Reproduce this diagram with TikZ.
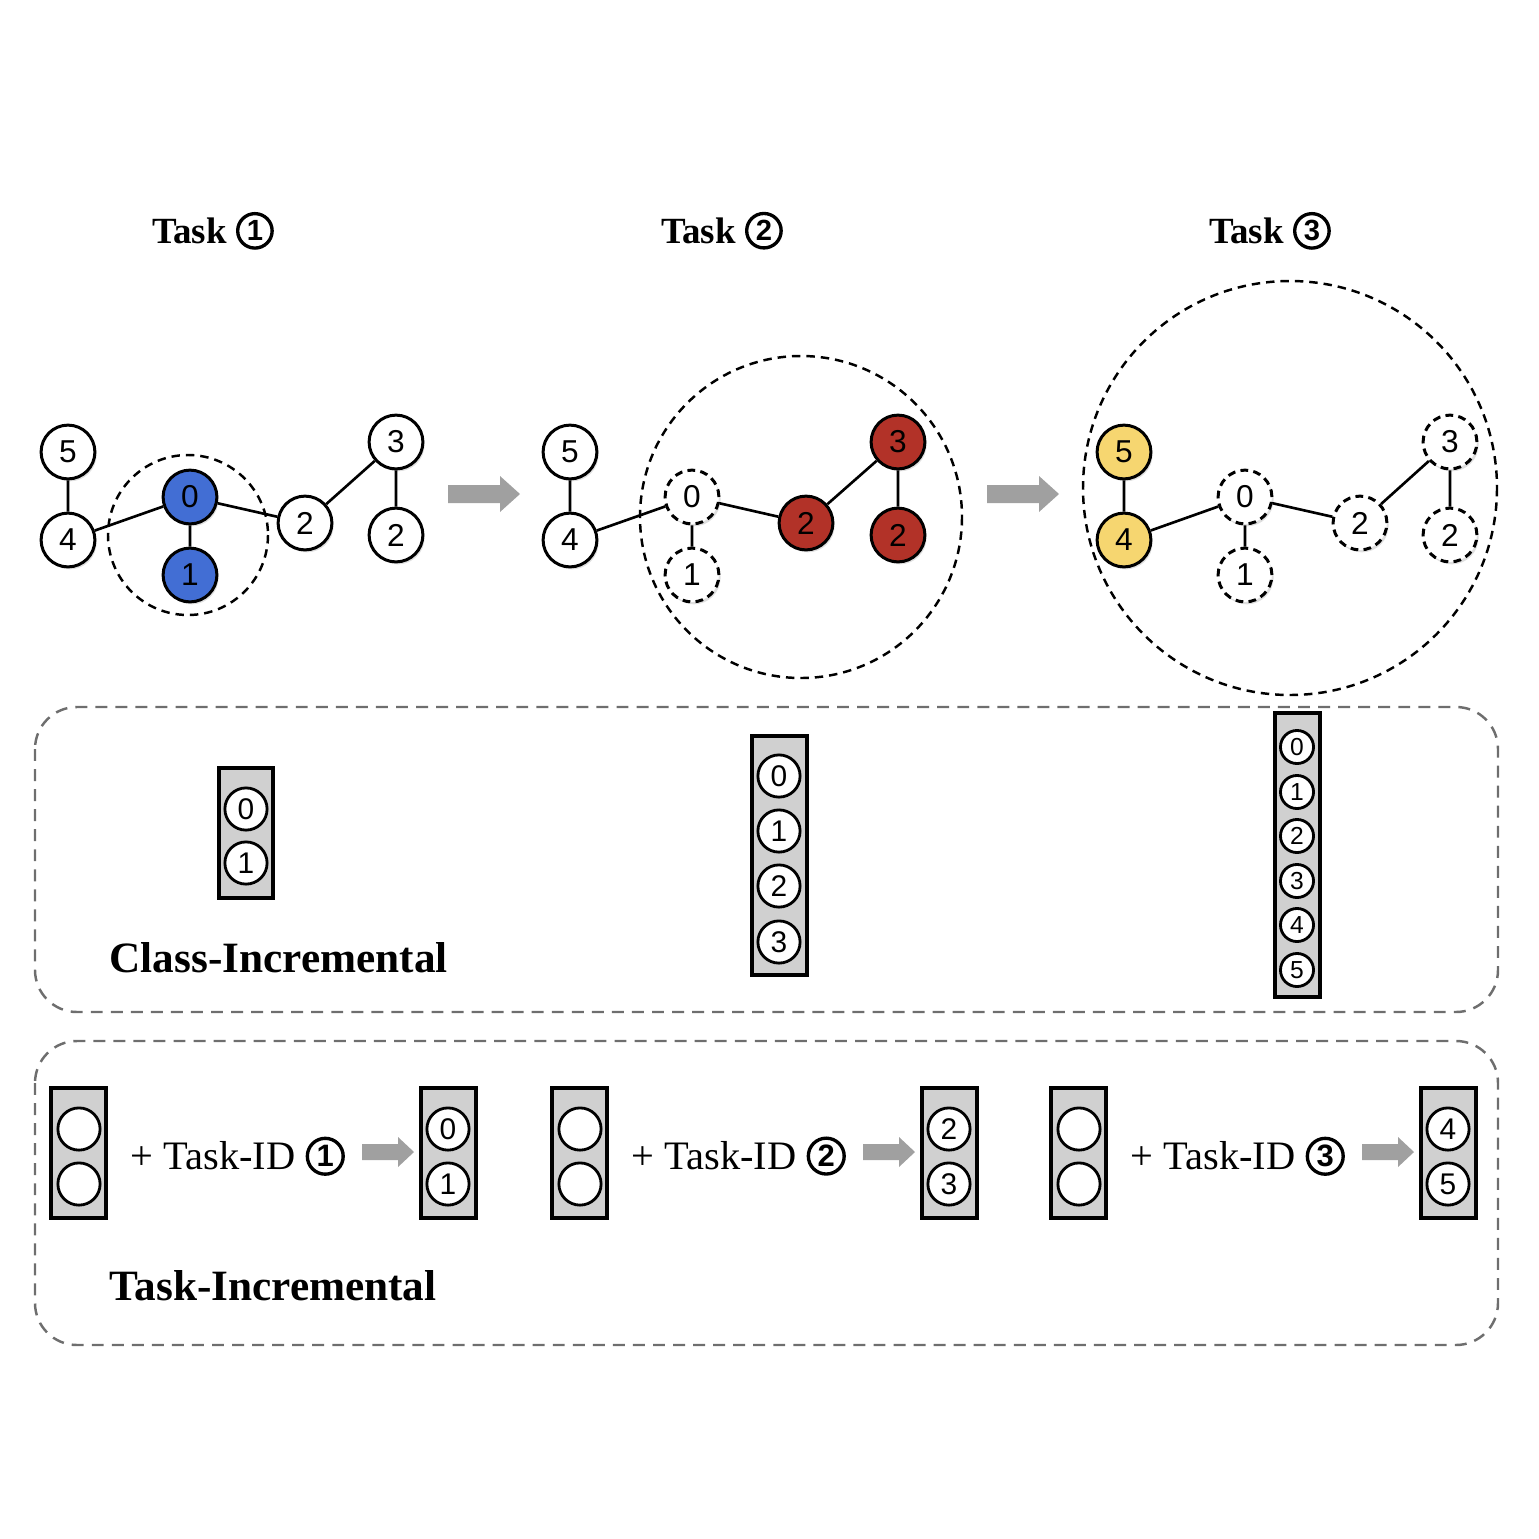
\documentclass[tikz,border=0pt]{standalone}
\usepackage{fontspec}
\setmainfont{Liberation Serif}
\newfontfamily\arialf{Liberation Sans}
\usetikzlibrary{shadows}
\definecolor{nblue}{RGB}{66,110,212}
\definecolor{nred}{RGB}{178,50,40}
\definecolor{nyel}{RGB}{246,214,112}
\definecolor{boxgray}{RGB}{208,208,208}
\definecolor{arrgray}{RGB}{160,160,160}
\definecolor{framegray}{RGB}{110,110,110}
\newcommand{\cnum}[3]{\tikz[baseline={([yshift=-0.6pt]cnm.base)}]\node[circle,draw,line width=0.95pt,inner sep=0pt,minimum size=#1,font=\arialf\bfseries\fontsize{#2}{#2}\selectfont](cnm){#3};}
\tikzset{
  gnode/.style={circle, draw, line width=0.85pt, minimum size=15.3pt, inner sep=0pt, fill=white,
    font=\arialf\fontsize{9}{9}\selectfont,
    drop shadow={shadow xshift=0.5pt, shadow yshift=-0.7pt, opacity=0.25}},
  dnode/.style={gnode, dash pattern=on 2.2pt off 1.5pt},
  gedge/.style={line width=0.75pt},
  region/.style={dash pattern=on 2.4pt off 1.7pt, line width=0.7pt},
  bigframe/.style={draw=framegray, dash pattern=on 3.4pt off 2.3pt, line width=0.7pt, rounded corners=0.42cm},
  colbox/.style={draw, line width=0.95pt, fill=boxgray},
  cnode/.style={circle, draw, line width=0.8pt, fill=white, inner sep=0pt, minimum size=12pt,
    font=\arialf\fontsize{8.5}{8.5}\selectfont},
  snode/.style={cnode, minimum size=9.4pt, font=\arialf\fontsize{7}{7}\selectfont},
  tasktitle/.style={font=\bfseries\fontsize{10.5}{12}\selectfont, inner sep=0pt, anchor=base},
  biglabel/.style={font=\bfseries\fontsize{12.3}{14}\selectfont, inner sep=0pt, anchor=base west},
  idtext/.style={font=\fontsize{11.5}{13}\selectfont, inner sep=0pt, anchor=base west},
  blockarrow/.style={fill=arrgray}
}
\begin{document}
\begin{tikzpicture}[x=0.01cm,y=-0.01cm]
\useasboundingbox (0,0) rectangle (1539,1539);

% titles
\node[tasktitle] (title1) at (213,243) {Task \cnum{9.8pt}{8.3}{1}};
\node[tasktitle] (title2) at (722,243) {Task \cnum{9.8pt}{8.3}{2}};
\node[tasktitle] (title3) at (1270,243) {Task \cnum{9.8pt}{8.3}{3}};

% ---------- Task 1 graph
\node[gnode] (a5) at (68,452) {5};
\node[gnode] (a4) at (68,540) {4};
\node[gnode,fill=nblue] (a0) at (190,497) {0};
\node[gnode,fill=nblue] (a1) at (190,575) {1};
\node[gnode] (a2) at (305,523) {2};
\node[gnode] (a3) at (396,442) {3};
\node[gnode] (a2b) at (396,535) {2};
\draw[gedge] (a5)--(a4) (a4)--(a0) (a0)--(a1) (a0)--(a2) (a2)--(a3) (a3)--(a2b);
\draw[region] (188,535) circle[radius=80];

\fill[blockarrow] (448,485) -- (500,485) -- (500,476) -- (520,494) -- (500,512) -- (500,503) -- (448,503) -- cycle;

% ---------- Task 2 graph
\node[gnode] (b5) at (570,452) {5};
\node[gnode] (b4) at (570,540) {4};
\node[dnode] (b0) at (692,497) {0};
\node[dnode] (b1) at (692,575) {1};
\node[gnode,fill=nred] (b2) at (806,523) {2};
\node[gnode,fill=nred] (b3) at (898,442) {3};
\node[gnode,fill=nred] (b2b) at (898,535) {2};
\draw[gedge] (b5)--(b4) (b4)--(b0) (b0)--(b1) (b0)--(b2) (b2)--(b3) (b3)--(b2b);
\draw[region] (801,517) circle[radius=161];

\fill[blockarrow] (987,485) -- (1039,485) -- (1039,476) -- (1059,494) -- (1039,512) -- (1039,503) -- (987,503) -- cycle;

% ---------- Task 3 graph
\node[gnode,fill=nyel] (c5) at (1124,452) {5};
\node[gnode,fill=nyel] (c4) at (1124,540) {4};
\node[dnode] (c0) at (1245,497) {0};
\node[dnode] (c1) at (1245,575) {1};
\node[dnode] (c2) at (1360,523) {2};
\node[dnode] (c3) at (1450,442) {3};
\node[dnode] (c2b) at (1450,535) {2};
\draw[gedge] (c5)--(c4) (c4)--(c0) (c0)--(c1) (c0)--(c2) (c2)--(c3) (c3)--(c2b);
\draw[region] (1290,488) circle[radius=207];

% ---------- Class-Incremental
\draw[bigframe] (35,707) rectangle (1498,1012);
\draw[colbox] (219,768) rectangle (273,898);
\node[cnode] (k10) at (246,809) {0};
\node[cnode] (k11) at (246,863) {1};

\draw[colbox] (752,736) rectangle (807,975);
\node[cnode] (k20) at (779,776) {0};
\node[cnode] (k21) at (779,831) {1};
\node[cnode] (k22) at (779,886) {2};
\node[cnode] (k23) at (779,942) {3};

\draw[colbox] (1275,713) rectangle (1320,997);
\node[snode] (k30) at (1297,747) {0};
\node[snode] (k31) at (1297,792) {1};
\node[snode] (k32) at (1297,836) {2};
\node[snode] (k33) at (1297,881) {3};
\node[snode] (k34) at (1297,925) {4};
\node[snode] (k35) at (1297,970) {5};

\node[biglabel] (classlab) at (109,972) {Class-Incremental};

% ---------- Task-Incremental
\draw[bigframe] (35,1041) rectangle (1498,1345);
\foreach \dx/\g/\ca/\cb in {0/1/0/1, 501/2/2/3, 1000/3/4/5}{
  \draw[colbox] (51+\dx,1088) rectangle (106+\dx,1218);
  \node[cnode] (e\g a) at (79+\dx,1129) {};
  \node[cnode] (e\g b) at (79+\dx,1184) {};
  \node[idtext] (id\g) at (130+\dx,1169) {+ Task-ID \cnum{10.2pt}{8.8}{\g}};
  \fill[blockarrow] (362+\dx,1144) -- (398+\dx,1144) -- (398+\dx,1137) -- (414+\dx,1152) -- (398+\dx,1167) -- (398+\dx,1160) -- (362+\dx,1160) -- cycle;
  \draw[colbox] (421+\dx,1088) rectangle (476+\dx,1218);
  \node[cnode] (f\g a) at (448+\dx,1129) {\ca};
  \node[cnode] (f\g b) at (448+\dx,1184) {\cb};
}
\node[biglabel] (tasklab) at (109,1300) {Task-Incremental};
\end{tikzpicture}
\end{document}
